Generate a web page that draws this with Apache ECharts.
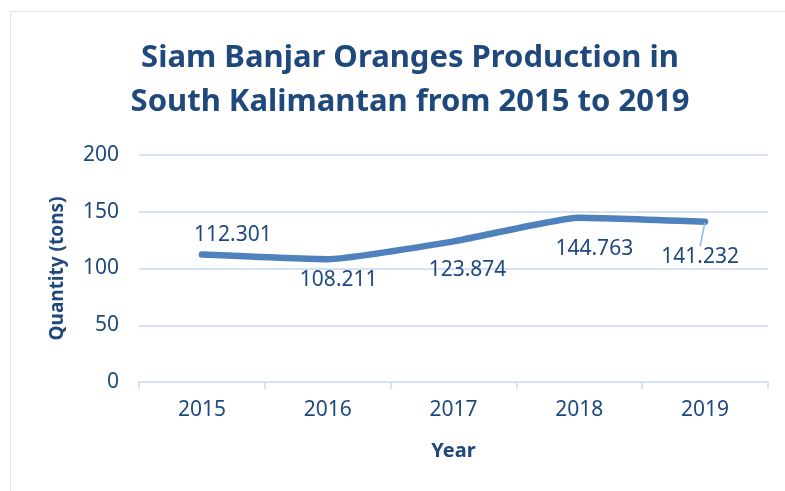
<!DOCTYPE html>
<html>
<head>
<meta charset="utf-8">
<script src="https://cdn.jsdelivr.net/npm/echarts@6/dist/echarts.min.js"></script>
<style>
    html, body { margin: 0; padding: 0; background: #fff; }
    #frame { position: absolute; left: 10px; top: 11px; width: 800px; height: 500px; border: 1px solid #dae3ef; }
    #chart { position: absolute; left: 0; top: 0; width: 785px; height: 491px; }
</style>
</head>
<body>
<div id="frame"></div>
<div id="chart"></div>
<script>
    // data
    var years = ['2015', '2016', '2017', '2018', '2019'];
    var production = [112.301, 108.211, 123.874, 144.763, 141.232];
    var labelTexts = ['112.301', '108.211', '123.874', '144.763', '141.232'];

    // label nudges, like Excel's placement
    var labelShift = [[31, -20], [11, 21], [14, 29], [15, 31], [-5, 35]];

    var textColor = '#1f497d';
    var gridColor = '#d6e2f3';
    var font = 'Noto Sans';

    var chart = echarts.init(document.getElementById('chart'));

    var option = {
        animation: false,
        title: {
            text: 'Siam Banjar Oranges Production in\nSouth Kalimantan from 2015 to 2019',
            left: 405,
            top: 31,
            textAlign: 'center',
            textStyle: {
                color: textColor,
                fontFamily: font,
                fontWeight: 'bold',
                fontSize: 31,
                lineHeight: 44
            }
        },
        grid: {
            left: 139,
            right: 17,
            top: 155,
            bottom: 109
        },
        xAxis: {
            type: 'category',
            data: years,
            name: 'Year',
            nameLocation: 'middle',
            nameGap: 59,
            nameTextStyle: { color: textColor, fontFamily: font, fontWeight: 'bold', fontSize: 20 },
            axisLine: { lineStyle: { color: gridColor, width: 2 } },
            axisTick: { show: true, length: 7, lineStyle: { color: gridColor, width: 2 } },
            axisLabel: { color: textColor, fontFamily: font, fontSize: 21, margin: 18 }
        },
        yAxis: {
            type: 'value',
            min: 0,
            max: 200,
            interval: 50,
            name: 'Quantity (tons)',
            nameLocation: 'middle',
            nameGap: 72,
            nameTextStyle: { color: textColor, fontFamily: font, fontWeight: 'bold', fontSize: 19 },
            axisLine: { show: false },
            axisTick: { show: false },
            axisLabel: { color: textColor, fontFamily: font, fontSize: 21, margin: 20 },
            splitLine: { lineStyle: { color: gridColor, width: 2 } }
        },
        series: [{
            type: 'line',
            data: production.map(function (v, i) {
                var item = { value: v };
                if (i === 4) {
                    item.labelLine = { show: true, lineStyle: { color: '#8eb4e3', width: 1.5 } };
                }
                return item;
            }),
            symbol: 'circle',
            symbolSize: 2,
            showSymbol: true,
            itemStyle: { color: '#4f81bd' },
            smooth: 0.15,
            lineStyle: { color: '#4f81bd', width: 6.5, cap: 'round' },
            label: {
                show: true,
                position: 'inside',
                formatter: function (p) { return labelTexts[p.dataIndex]; },
                color: textColor,
                fontFamily: font,
                fontSize: 21
            },
            labelLine: { show: false },
            labelLayout: function (p) {
                var s = labelShift[p.dataIndex];
                return { dx: s[0], dy: s[1] };
            }
        }]
    };

    chart.setOption(option);
</script>
</body>
</html>
